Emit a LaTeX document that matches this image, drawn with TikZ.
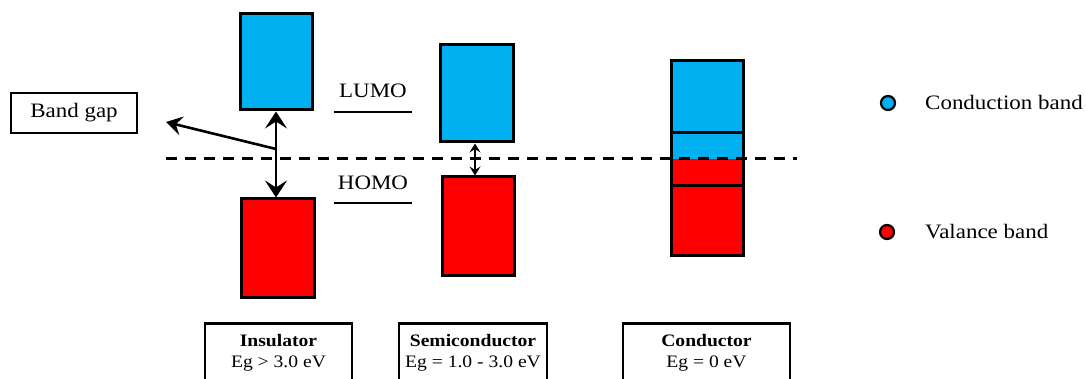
\documentclass[tikz,border=0pt]{standalone}
\usepackage{fontspec}
\setmainfont[FakeStretch=1.12]{Liberation Serif}
\usetikzlibrary{arrows.meta}
\definecolor{cband}{HTML}{00B0F0}
\definecolor{vband}{HTML}{FF0000}
\begin{document}
\begin{tikzpicture}[x=1pt,y=-1pt,
  band/.style={draw=black,line width=3pt,inner sep=0pt},
  bandfill/.style={inner sep=0pt,draw=none},
  lbl/.style={font=\fontsize{20.5}{24}\selectfont,inner sep=0pt},
  lvl/.style={line width=2.5pt},
  infobox/.style={draw=black,line width=2.5pt,minimum width=#1,minimum height=60pt,inner sep=0pt,align=center,font=\fontsize{17.5}{21}\selectfont,anchor=north},
  dot/.style={circle,draw=black,line width=2.2pt,minimum size=14pt,inner sep=0pt}]
\useasboundingbox (0,0) rectangle (1086,379);
\clip (0,0) rectangle (1086,379);
% insulator
\node[band,fill=cband,minimum width=72pt,minimum height=96pt] (ib) at (276,62) {};
\node[band,fill=vband,minimum width=73pt,minimum height=98pt] (ir) at (277.5,248) {};
% semiconductor
\node[band,fill=cband,minimum width=73pt,minimum height=97pt] (sb) at (476.5,93.5) {};
\node[band,fill=vband,minimum width=72pt,minimum height=98pt] (sr) at (478,226) {};
% conductor
\node[bandfill,fill=cband,minimum width=72pt,minimum height=26pt] (cm1) at (707,146) {};
\node[bandfill,fill=vband,minimum width=72pt,minimum height=27pt] (cm2) at (707,172.5) {};
\node[band,fill=cband,minimum width=72pt,minimum height=72pt] (cu) at (707,97) {};
\node[band,fill=vband,minimum width=72pt,minimum height=70pt] (cl) at (707,221) {};
\node[band,minimum width=72pt,minimum height=195pt] (cbox) at (707,158.5) {};
% dashed line
\coordinate (d1) at (166,159);
\coordinate (d2) at (797,159);
\draw[line width=3pt,dash pattern=on 11pt off 8pt] (d1) -- (d2);
% gap arrows
\draw[line width=2.8pt,{Stealth[length=17pt,width=22pt,inset=7pt]}-{Stealth[length=17pt,width=22pt,inset=7pt]}] (ib.south) -- (ib.south |- ir.north);
\draw[line width=1.4pt,{Stealth[length=9pt,width=11pt,inset=3.5pt]}-{Stealth[length=9pt,width=11pt,inset=3.5pt]}] (sb.south -| 475,0) -- (sr.north -| 475,0);
% band gap label
\node[draw=black,line width=2.5pt,minimum width=126pt,minimum height=40pt,inner sep=0pt,font=\fontsize{20.5}{24}\selectfont] (bg) at (74,113) {Band gap};
\coordinate (bgs) at (276,149);
\coordinate (bgt) at (166,122);
\draw[line width=2.6pt,-{Stealth[length=16pt,width=19pt,inset=6pt]}] (bgs) -- (bgt);
% LUMO / HOMO
\node[lbl] (lumo) at (373,91) {LUMO};
\coordinate (l1) at (334,112); \coordinate (l2) at (412,112);
\draw[lvl] (l1) -- (l2);
\node[lbl] (homo) at (373,183) {HOMO};
\coordinate (h1) at (334,203); \coordinate (h2) at (412,203);
\draw[lvl] (h1) -- (h2);
% legend
\node[dot,fill=cband] (lc) at (888,103) {};
\node[lbl,anchor=west] (lct) at (925,102) {Conduction band};
\node[dot,fill=vband] (lv) at (887,232) {};
\node[lbl,anchor=west] (lvt) at (925,232) {Valance band};
% info boxes
\node[infobox=147pt] (ins) at (278.5,322) {\textbf{Insulator}\\Eg > 3.0 eV};
\node[infobox=148pt] (sem) at (473,322) {\textbf{Semiconductor}\\Eg = 1.0 - 3.0 eV};
\node[infobox=167pt] (con) at (706.5,322) {\textbf{Conductor}\\Eg = 0 eV};
\end{tikzpicture}
\end{document}
